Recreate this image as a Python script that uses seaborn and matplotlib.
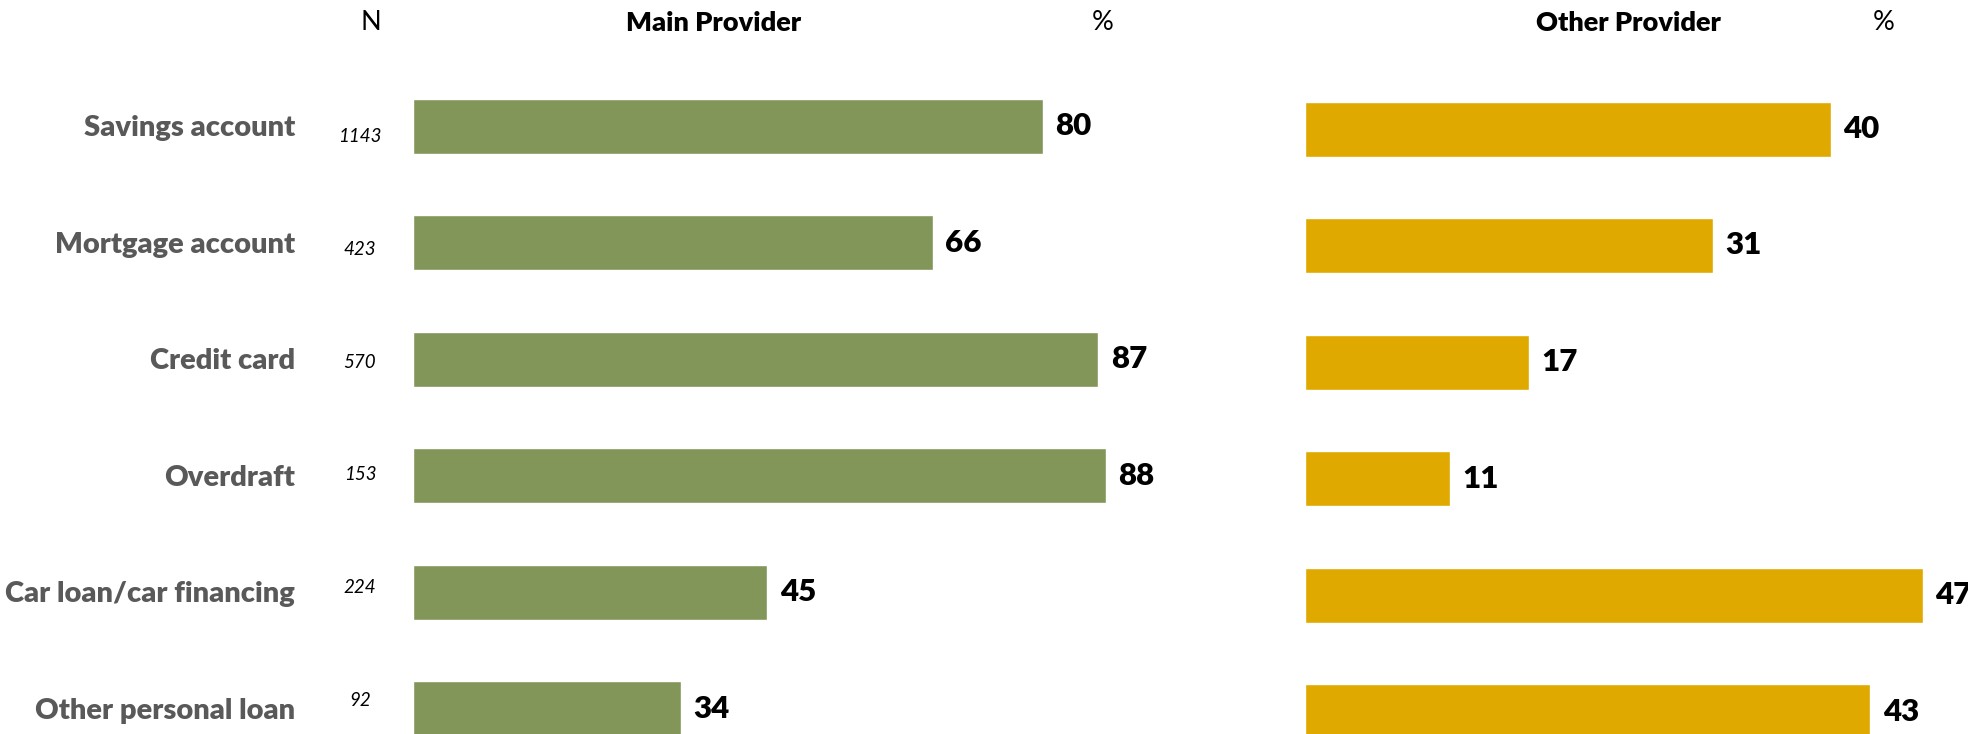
import matplotlib
matplotlib.use("Agg")
import matplotlib.pyplot as plt
import matplotlib.transforms as mtransforms
import seaborn as sns
import pandas as pd

# ---- data ----
categories = ["Savings account", "Mortgage account", "Credit card", "Overdraft",
              "Car loan/car financing", "Other personal loan"]
n_values = [1143, 423, 570, 153, 224, 92]
main_provider = [80, 66, 87, 88, 45, 34]
other_provider = [40, 31, 17, 11, 47, 43]

sns.set_theme(style="white")
plt.rcParams["font.family"] = ["Lato", "DejaVu Sans"]

W, H = 1968, 734
fig = plt.figure(figsize=(W / 100, H / 100), dpi=100)

GREEN = "#83965A"
GOLD = "#DFA900"
GRAY = "#595959"

row_step = 116.5          # px between rows
bar_h = 55 / row_step     # bar thickness in row units


def make_axes(left_px, px_per_unit, xmax, center0_px):
    width_px = xmax * px_per_unit
    ax = fig.add_axes([left_px / W, 0, width_px / W, 1])
    top = (0 - center0_px) / row_step
    bottom = (H - center0_px) / row_step
    return ax, (bottom, top)


df = pd.DataFrame({"cat": categories, "main": main_provider, "other": other_provider})

# left panel (main provider)
axL, ylimL = make_axes(413, 7.875, 100, 126)
sns.barplot(data=df, x="main", y="cat", orient="h", color=GREEN, saturation=1,
            width=bar_h, ax=axL)
axL.set_xlim(0, 100)
axL.set_ylim(*ylimL)

# right panel (other provider)
axR, ylimR = make_axes(1305, 13.15, 50, 129)
sns.barplot(data=df, x="other", y="cat", orient="h", color=GOLD, saturation=1,
            width=bar_h, ax=axR)
axR.set_xlim(0, 50)
axR.set_ylim(*ylimR)

for ax in (axL, axR):
    ax.set_axis_off()
    for c in ax.containers:
        labels = ax.bar_label(c, padding=9, fontsize=22.5, fontweight="heavy",
                              color="black", fmt="%g")
        for t in labels:
            t.set_transform(t.get_transform() + mtransforms.Affine2D().translate(0, -2))

# category labels
offset = mtransforms.Affine2D().translate(0, -2)
trL = mtransforms.blended_transform_factory(fig.transFigure, axL.transData) + offset
for i, cat in enumerate(categories):
    fig.text(295 / W, i, cat, transform=trL, ha="right", va="center",
             fontsize=21, fontweight="heavy", color=GRAY)

# N column
n_top, n_step = 137, 112.6
for i, n in enumerate(n_values):
    fig.text(360 / W, 1 - (n_top + i * n_step) / H, str(n), ha="center", va="center",
             fontsize=13.5, fontstyle="italic", color="black")

# headers
hy = 1 - 23 / H
fig.text(371 / W, hy, "N", ha="center", va="center", fontsize=19.5, color="black")
fig.text(714 / W, hy, "Main Provider", ha="center", va="center", fontsize=19.5,
         fontweight="heavy", color="black")
fig.text(1103 / W, hy, "%", ha="center", va="center", fontsize=19.5, color="black")
fig.text(1628 / W, hy, "Other Provider", ha="center", va="center", fontsize=19.5,
         fontweight="heavy", color="black")
fig.text(1884 / W, hy, "%", ha="center", va="center", fontsize=19.5, color="black")

fig.savefig("out.png", dpi=100, facecolor="white")
